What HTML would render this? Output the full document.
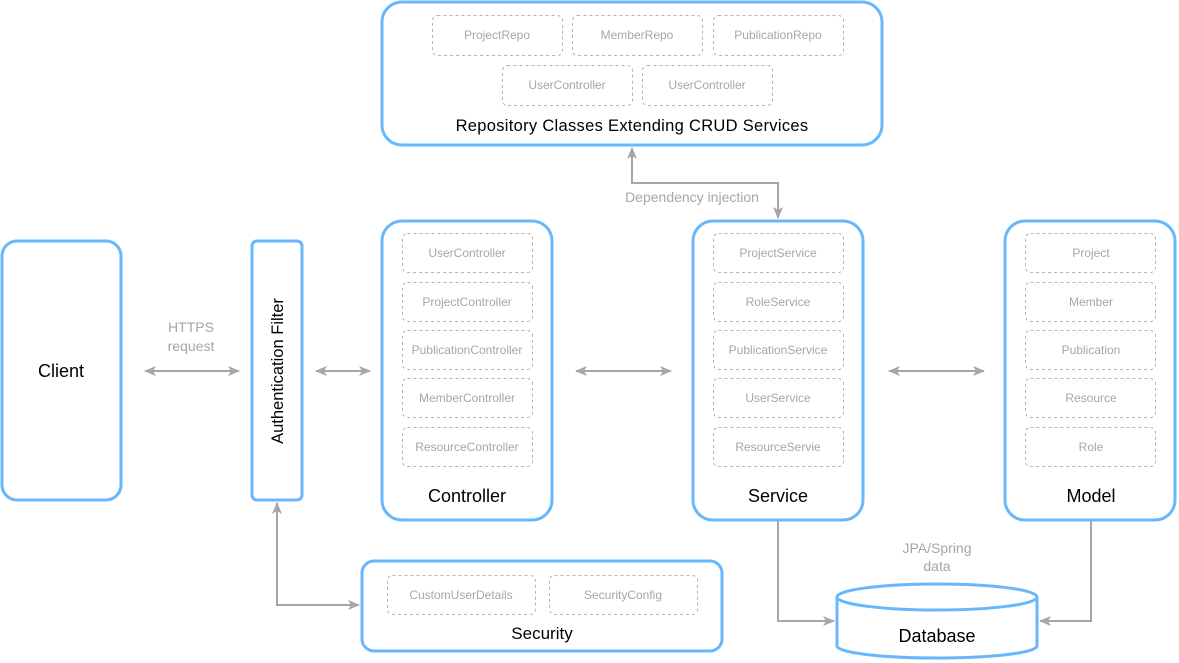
<!DOCTYPE html>
<html><head><meta charset="utf-8"><style>
html,body{margin:0;padding:0;background:#fff;}
svg{display:block;font-family:"Liberation Sans",Arial,sans-serif;}
.b{fill:#fff;stroke:#66b7fc;stroke-width:3;}
.d{fill:#fff;stroke:#b3b3b3;stroke-width:1;stroke-dasharray:3 3;}
.t{fill:#a6a6a6;font-size:12px;text-anchor:middle;}
.L{fill:#000;font-size:18px;text-anchor:middle;}
.a{fill:none;stroke:#a6a6a6;stroke-width:2;}
.g{fill:#a6a6a6;font-size:14px;text-anchor:middle;}
</style></head><body>
<svg width="1179" height="663" viewBox="0 0 1179 663">
<defs>
<marker id="n" viewBox="0 0 12 12" refX="11" refY="6" markerWidth="12" markerHeight="12" orient="auto-start-reverse" markerUnits="userSpaceOnUse">
<path d="M0,1 L12,6 L0,11 L3,6 z" fill="#a6a6a6"/>
</marker>
</defs>

<!-- Repo -->
<rect class="b" x="382" y="2" width="500" height="143" rx="20"/>
<rect class="d" x="432.5" y="15.5" width="130" height="40" rx="5"/><text class="t" x="497" y="39">ProjectRepo</text>
<rect class="d" x="572.5" y="15.5" width="130" height="40" rx="5"/><text class="t" x="637" y="39">MemberRepo</text>
<rect class="d" x="713.5" y="15.5" width="130" height="40" rx="5"/><text class="t" x="778" y="39">PublicationRepo</text>
<rect class="d" x="502.5" y="65.5" width="130" height="40" rx="5"/><text class="t" x="567" y="89">UserController</text>
<rect class="d" x="642.5" y="65.5" width="130" height="40" rx="5"/><text class="t" x="707" y="89">UserController</text>
<text x="632" y="131" style="font-size:16.5px;letter-spacing:0.3px;text-anchor:middle;fill:#000">Repository Classes Extending CRUD Services</text>

<!-- Client -->
<rect class="b" x="2" y="241" width="119" height="259" rx="15"/>
<text class="L" x="61" y="377">Client</text>

<!-- Auth -->
<rect class="b" x="252" y="241" width="50" height="259" rx="5"/>
<text x="283" y="371" transform="rotate(-90 283 371)" style="font-size:16.5px;text-anchor:middle;fill:#000">Authentication Filter</text>

<!-- Controller -->
<rect class="b" x="382" y="221" width="170" height="299" rx="20"/>
<rect class="d" x="402.5" y="233.5" width="130" height="39" rx="5"/><text class="t" x="467" y="257">UserController</text>
<rect class="d" x="402.5" y="282.5" width="130" height="39" rx="5"/><text class="t" x="467" y="306">ProjectController</text>
<rect class="d" x="402.5" y="330.5" width="130" height="39" rx="5"/><text class="t" x="467" y="354">PublicationController</text>
<rect class="d" x="402.5" y="378.5" width="130" height="39" rx="5"/><text class="t" x="467" y="402">MemberController</text>
<rect class="d" x="402.5" y="427.5" width="130" height="39" rx="5"/><text class="t" x="467" y="451">ResourceController</text>
<text class="L" x="467" y="502">Controller</text>

<!-- Service -->
<rect class="b" x="693" y="221" width="170" height="299" rx="20"/>
<rect class="d" x="713.5" y="233.5" width="130" height="39" rx="5"/><text class="t" x="778" y="257">ProjectService</text>
<rect class="d" x="713.5" y="282.5" width="130" height="39" rx="5"/><text class="t" x="778" y="306">RoleService</text>
<rect class="d" x="713.5" y="330.5" width="130" height="39" rx="5"/><text class="t" x="778" y="354">PublicationService</text>
<rect class="d" x="713.5" y="378.5" width="130" height="39" rx="5"/><text class="t" x="778" y="402">UserService</text>
<rect class="d" x="713.5" y="427.5" width="130" height="39" rx="5"/><text class="t" x="778" y="451">ResourceServie</text>
<text class="L" x="778" y="502">Service</text>

<!-- Model -->
<rect class="b" x="1005" y="221" width="170" height="299" rx="20"/>
<rect class="d" x="1025.5" y="233.5" width="130" height="39" rx="5"/><text class="t" x="1091" y="257">Project</text>
<rect class="d" x="1025.5" y="282.5" width="130" height="39" rx="5"/><text class="t" x="1091" y="306">Member</text>
<rect class="d" x="1025.5" y="330.5" width="130" height="39" rx="5"/><text class="t" x="1091" y="354">Publication</text>
<rect class="d" x="1025.5" y="378.5" width="130" height="39" rx="5"/><text class="t" x="1091" y="402">Resource</text>
<rect class="d" x="1025.5" y="427.5" width="130" height="39" rx="5"/><text class="t" x="1091" y="451">Role</text>
<text class="L" x="1091" y="502">Model</text>

<!-- Security -->
<rect class="b" x="362" y="561" width="360" height="90" rx="12"/>
<rect class="d" x="387.5" y="575.5" width="148" height="39" rx="5"/><text class="t" x="461" y="599">CustomUserDetails</text>
<rect class="d" x="549.5" y="575.5" width="148" height="39" rx="5"/><text class="t" x="623" y="599">SecurityConfig</text>
<text x="542" y="639" style="font-size:17px;text-anchor:middle;fill:#000">Security</text>

<!-- Database -->
<path class="b" d="M837,597 L837,646 A100,12 0 0 0 1037,646 L1037,597 A100,13 0 0 0 837,597 A100,13 0 0 0 1037,597"/>
<text class="L" x="937" y="642">Database</text>

<!-- Arrows -->
<line class="a" x1="145" y1="371" x2="239" y2="371" marker-start="url(#n)" marker-end="url(#n)"/>
<text class="g" x="191" y="332">HTTPS</text><text class="g" x="191" y="351">request</text>
<line class="a" x1="316" y1="371" x2="370" y2="371" marker-start="url(#n)" marker-end="url(#n)"/>
<line class="a" x1="576" y1="371" x2="671" y2="371" marker-start="url(#n)" marker-end="url(#n)"/>
<line class="a" x1="889" y1="371" x2="984" y2="371" marker-start="url(#n)" marker-end="url(#n)"/>
<path class="a" d="M277,503 L277,605 L359,605" marker-start="url(#n)" marker-end="url(#n)"/>
<path class="a" d="M632,148 L632,183 L778,183 L778,218" marker-start="url(#n)" marker-end="url(#n)"/>
<rect x="618" y="187" width="150" height="18" fill="#fff"/>
<text class="g" x="692" y="202">Dependency injection</text>
<path class="a" d="M778,521 L778,621 L834,621" marker-end="url(#n)"/>
<path class="a" d="M1091,521 L1091,621 L1040,621" marker-end="url(#n)"/>
<text class="g" x="937" y="553">JPA/Spring</text><text class="g" x="937" y="571">data</text>
</svg>
</body></html>
